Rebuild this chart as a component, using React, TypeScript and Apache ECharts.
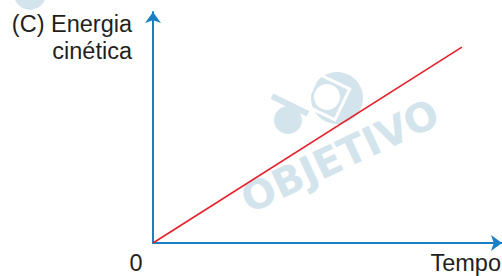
import React, { useEffect, useRef } from "react";
import * as echarts from "echarts";

// Data (arbitrary units)
const tempo: number[] = [0, 8.85];
const energiaCinetica: number[] = [0, 8.48];

const yLabelLines: string[] = ["(C) Energia", "cinética"];
const xLabel = "Tempo";
const originLabel = "0";
const watermark = "OBJETIVO";

const AXIS_BLUE = "#1b7fc4";
const LINE_RED = "#e5202a";
const WM = "#d3e4ec";
const TEXT = "#231f20";
const FONT = '23.5px "Liberation Sans", Arial, sans-serif';

export default function App() {
  const ref = useRef<HTMLDivElement>(null);
  useEffect(() => {
    if (!ref.current) return;
    const chart = echarts.init(ref.current, undefined, { renderer: "svg" });
    const data = tempo.map((t, i) => [t, energiaCinetica[i]]);
    chart.setOption({
      animation: false,
      backgroundColor: "#ffffff",
      grid: { left: 153, right: 0, top: 12, bottom: 33 },
      xAxis: {
        type: "value",
        min: 0,
        max: 10,
        axisLine: {
          show: true,
          onZero: false,
          lineStyle: { color: AXIS_BLUE, width: 2 },
          symbol: ["none", "arrow"],
          symbolSize: [12, 11],
        },
        axisTick: { show: false },
        axisLabel: { show: false },
        splitLine: { show: false },
      },
      yAxis: {
        type: "value",
        min: 0,
        max: 10,
        axisLine: {
          show: true,
          onZero: false,
          lineStyle: { color: AXIS_BLUE, width: 2 },
          symbol: ["none", "arrow"],
          symbolSize: [12, 11],
        },
        axisTick: { show: false },
        axisLabel: { show: false },
        splitLine: { show: false },
      },
      series: [
        {
          type: "line",
          data,
          showSymbol: false,
          symbol: "none",
          z: 3,
          lineStyle: { color: LINE_RED, width: 1.6 },
        },
      ],
      graphic: [
        // watermark logo
        { type: "circle", z: -10, silent: true, shape: { cx: 30, cy: -6, r: 16 }, style: { fill: WM } },
        { type: "circle", z: -10, silent: true, shape: { cx: 337, cy: 98, r: 26 }, style: { fill: WM } },
        {
          type: "rect", z: -9, silent: true, x: 327, y: 97, rotation: -Math.PI / 7,
          shape: { x: -17, y: -17, width: 34, height: 34 }, style: { fill: "none", stroke: "#ffffff", lineWidth: 3 },
        },
        { type: "circle", z: -8, silent: true, shape: { cx: 327, cy: 97, r: 13 }, style: { fill: "#ffffff" } },
        { type: "circle", z: -10, silent: true, shape: { cx: 288, cy: 120, r: 14 }, style: { fill: WM } },
        {
          type: "rect", z: -10, silent: true, x: 290, y: 105, rotation: -0.45,
          shape: { x: -20, y: -3, width: 40, height: 6 }, style: { fill: WM },
        },
        {
          type: "text", z: -10, silent: true, x: 340, y: 156, rotation: 0.44,
          style: {
            text: watermark, fill: WM, align: "center", verticalAlign: "middle",
            font: '900 40px "DejaVu Sans", sans-serif',
          },
        },
        // labels
        {
          type: "text", x: 132, y: 12,
          style: { text: yLabelLines[0], fill: TEXT, font: FONT, align: "right", verticalAlign: "top" },
        },
        {
          type: "text", x: 132, y: 39,
          style: { text: yLabelLines[1], fill: TEXT, font: FONT, align: "right", verticalAlign: "top" },
        },
        {
          type: "text", x: 136, y: 251,
          style: { text: originLabel, fill: TEXT, font: FONT, align: "center", verticalAlign: "top" },
        },
        {
          type: "text", x: 501, y: 251,
          style: { text: xLabel, fill: TEXT, font: FONT, align: "right", verticalAlign: "top" },
        },
      ],
    });
    return () => chart.dispose();
  }, []);
  return (
    <div
      ref={ref}
      style={{ position: "fixed", left: 0, top: 0, width: 502, height: 276 }}
    />
  );
}
